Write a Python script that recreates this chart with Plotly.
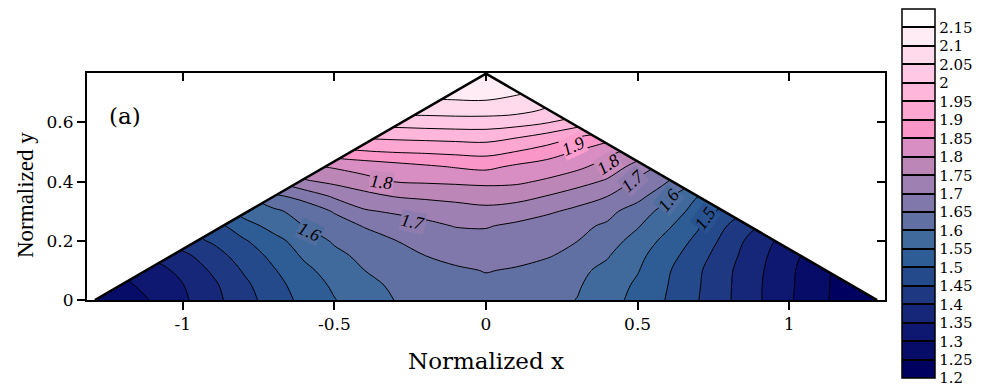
import plotly.graph_objects as go

# ---------------- data ----------------
x_grid = [-1.3, -1.2, -1.1, -1.0, -0.9, -0.8, -0.7, -0.6, -0.5, -0.4, -0.3, -0.2, -0.1, 0.0,
          0.1, 0.2, 0.3, 0.4, 0.5, 0.6, 0.7, 0.8, 0.9, 1.0, 1.1, 1.2, 1.3]
y_grid = [0.0, 0.05, 0.1, 0.15, 0.2, 0.25, 0.3, 0.35, 0.4, 0.45, 0.5, 0.55, 0.6, 0.65, 0.7, 0.75, 0.8]
N = None
z_grid = [
    [1.260, 1.267, 1.304, 1.341, 1.385, 1.429, 1.474, 1.514, 1.548, 1.576, 1.601, 1.610, 1.622, 1.628, 1.622, 1.612, 1.599, 1.569, 1.535, 1.496, 1.451, 1.404, 1.355, 1.306, 1.263, 1.221, 1.200],
    [1.260, 1.288, 1.318, 1.348, 1.391, 1.438, 1.483, 1.523, 1.558, 1.586, 1.608, 1.620, 1.633, 1.640, 1.634, 1.622, 1.605, 1.576, 1.542, 1.500, 1.454, 1.405, 1.355, 1.308, 1.263, 1.225, 1.205],
    [1.300, 1.310, 1.326, 1.366, 1.407, 1.454, 1.496, 1.538, 1.571, 1.600, 1.614, 1.628, 1.643, 1.652, 1.646, 1.629, 1.611, 1.588, 1.553, 1.505, 1.457, 1.407, 1.358, 1.310, 1.263, 1.230, 1.210],
    [N, 1.340, 1.360, 1.387, 1.430, 1.471, 1.513, 1.557, 1.588, 1.612, 1.631, 1.650, 1.664, 1.668, 1.663, 1.655, 1.633, 1.604, 1.563, 1.518, 1.470, 1.416, 1.365, 1.313, 1.280, 1.250, N],
    [N, N, 1.400, 1.430, 1.456, 1.494, 1.534, 1.573, 1.606, 1.628, 1.649, 1.665, 1.678, 1.685, 1.681, 1.668, 1.651, 1.621, 1.582, 1.533, 1.487, 1.429, 1.372, 1.330, 1.300, N, N],
    [N, N, N, 1.450, 1.480, 1.528, 1.567, 1.600, 1.628, 1.653, 1.671, 1.688, 1.702, 1.703, 1.691, 1.676, 1.661, 1.643, 1.604, 1.557, 1.505, 1.446, 1.400, 1.360, N, N, N],
    [N, N, N, N, 1.520, 1.570, 1.590, 1.621, 1.654, 1.695, 1.707, 1.716, 1.727, 1.736, 1.724, 1.708, 1.689, 1.665, 1.625, 1.580, 1.529, 1.480, 1.430, N, N, N, N],
    [N, N, N, N, N, 1.600, 1.640, 1.665, 1.707, 1.731, 1.752, 1.759, 1.765, 1.771, 1.768, 1.748, 1.723, 1.700, 1.667, 1.608, 1.550, 1.500, N, N, N, N, N],
    [N, N, N, N, N, 1.660, 1.700, 1.742, 1.761, 1.785, 1.801, 1.805, 1.808, 1.811, 1.808, 1.793, 1.770, 1.742, 1.689, 1.650, 1.600, 1.550, N, N, N, N, N],
    [N, N, N, N, N, N, 1.750, 1.790, 1.805, 1.817, 1.830, 1.842, 1.853, 1.861, 1.841, 1.826, 1.810, 1.781, 1.730, 1.680, 1.630, N, N, N, N, N, N],
    [N, N, N, N, N, N, N, 1.850, 1.880, 1.895, 1.902, 1.906, 1.911, 1.915, 1.898, 1.875, 1.845, 1.812, 1.780, 1.740, N, N, N, N, N, N, N],
    [N, N, N, N, N, N, N, N, 1.945, 1.955, 1.960, 1.963, 1.966, 1.968, 1.953, 1.930, 1.900, 1.870, 1.840, N, N, N, N, N, N, N, N],
    [N, N, N, N, N, N, N, N, N, 2.015, 2.020, 2.025, 2.028, 2.028, 2.020, 2.003, 1.975, 1.950, N, N, N, N, N, N, N, N, N],
    [N, N, N, N, N, N, N, N, N, N, 2.075, 2.078, 2.080, 2.080, 2.075, 2.050, 2.030, N, N, N, N, N, N, N, N, N, N],
    [N, N, N, N, N, N, N, N, N, N, N, 2.110, 2.118, 2.120, 2.105, 2.090, N, N, N, N, N, N, N, N, N, N, N],
    [N, N, N, N, N, N, N, N, N, N, N, 2.125, 2.130, 2.135, 2.130, 2.120, N, N, N, N, N, N, N, N, N, N, N],
    [N, N, N, N, N, N, N, N, N, N, N, N, 2.140, 2.142, 2.140, N, N, N, N, N, N, N, N, N, N, N, N],
]

# triangular domain
tri_x = [-1.29, 0.0, 1.29]
tri_y = [0.0, 0.765, 0.0]

# contour levels / colour bar
level_start, level_end, level_step = 1.25, 2.2, 0.05
cbar_min, cbar_max = 1.2, 2.2
cbar_ticks = [1.2, 1.25, 1.3, 1.35, 1.4, 1.45, 1.5, 1.55, 1.6, 1.65, 1.7, 1.75, 1.8, 1.85,
              1.9, 1.95, 2.0, 2.05, 2.1, 2.15]
cbar_text = ["1.2", "1.25", "1.3", "1.35", "1.4", "1.45", "1.5", "1.55", "1.6", "1.65", "1.7",
             "1.75", "1.8", "1.85", "1.9", "1.95", "2", "2.05", "2.1", "2.15"]
band_colors = ["#000060", "#060c68", "#0e1870", "#162678", "#1e3882", "#244a8c", "#2e5c94",
               "#406a9c", "#6070a2", "#8078aa", "#9e80b2", "#bc86b6", "#d88ec2", "#fa96c8",
               "#fca6d2", "#feb6da", "#ffc8e4", "#ffdaec", "#ffecf4", "#ffffff"]

# labelled contours: (text, x, y, angle, local background)
label_text = ["1.6", "1.7", "1.8", "1.9", "1.8", "1.7", "1.6", "1.5"]
label_x = [-0.581, -0.240, -0.344, 0.289, 0.405, 0.484, 0.603, 0.724]
label_y = [0.230, 0.265, 0.400, 0.520, 0.458, 0.402, 0.338, 0.276]
label_angle = [25, 11, 6, -25, -33, -42, -52, -55]
label_bg = ["#506d9f", "#8f7cae", "#ca8abc", "#fb9ecd", "#ca8abc", "#8f7cae", "#506d9f", "#295390"]

x_ticks = [-1, -0.5, 0, 0.5, 1]
x_ticktext = ["-1", "-0.5", "0", "0.5", "1"]
y_ticks = [0, 0.2, 0.4, 0.6]
y_ticktext = ["0", "0.2", "0.4", "0.6"]
x_range = [-1.316, 1.316]
y_range = [0.0, 0.767]

# ---------------- figure ----------------
FONT = "Liberation Serif"
WIDE = "DejaVu Serif"
n = len(band_colors)
colorscale = []
for i, c in enumerate(band_colors):
    colorscale.append([i / n, c])
    colorscale.append([(i + 1) / n, c])

fig = go.Figure()
fig.add_trace(go.Contour(
    x=x_grid, y=y_grid, z=z_grid,
    colorscale=colorscale,
    contours=dict(start=level_start, end=level_end, size=level_step, coloring="fill",
                  showlines=True),
    line=dict(color="black", width=1, smoothing=1),
    hoverinfo="skip", showscale=False,
))

# colour-bar carrier (lies outside the visible axis range)
fig.add_trace(go.Contour(
    x=[-3.0, -2.9], y=[0.3, 0.4], z=[[cbar_min, cbar_max], [cbar_min, cbar_max]],
    colorscale=colorscale, zmin=cbar_min, zmax=cbar_max,
    contours=dict(start=level_start, end=cbar_ticks[-1], size=level_step, coloring="heatmap",
                  showlines=True),
    line=dict(color="black", width=2),
    hoverinfo="skip", showscale=True,
    colorbar=dict(
        x=(902 - 87) / 798, xanchor="left", xpad=0, ypad=0,
        y=(300 - 193.7) / 227, yanchor="middle",
        thickness=33, thicknessmode="pixels",
        len=369, lenmode="pixels",
        outlinewidth=1.5, outlinecolor="black",
        tickmode="array", tickvals=cbar_ticks, ticktext=cbar_text,
        ticks="", ticklen=4,
        tickfont=dict(family=WIDE, size=15, color="black"),
    ),
))

# white masks outside the triangle
fig.add_trace(go.Scatter(
    x=[-1.6, tri_x[0], tri_x[1], 0.2, -1.6], y=[0.0, tri_y[0], tri_y[1], 1.0, 1.0],
    fill="toself", fillcolor="white", mode="lines", line=dict(width=0, color="white"),
    hoverinfo="skip", showlegend=False))
fig.add_trace(go.Scatter(
    x=[1.6, tri_x[2], tri_x[1], -0.2, 1.6], y=[0.0, tri_y[2], tri_y[1], 1.0, 1.0],
    fill="toself", fillcolor="white", mode="lines", line=dict(width=0, color="white"),
    hoverinfo="skip", showlegend=False))
# triangle outline
fig.add_trace(go.Scatter(
    x=tri_x, y=tri_y, mode="lines", line=dict(color="black", width=2.5),
    hoverinfo="skip", showlegend=False))
# helper for the inside ticks on top/right
fig.add_trace(go.Scatter(
    x=[0], y=[0.3], xaxis="x2", yaxis="y2", mode="markers", marker=dict(opacity=0),
    hoverinfo="skip", showlegend=False))

for t, lx, ly, ang, bg in zip(label_text, label_x, label_y, label_angle, label_bg):
    fig.add_annotation(x=lx, y=ly, xref="x", yref="y", text="<i>" + t + "</i>",
                       showarrow=False, textangle=ang, bgcolor=bg, borderpad=0,
                       xanchor="center", yanchor="middle",
                       font=dict(family=FONT, size=18, color="black"))

fig.add_annotation(x=(125 - 87) / 798, y=(300 - 116) / 227, xref="paper", yref="paper",
                   text="(a)", showarrow=False, xanchor="center", yanchor="middle",
                   font=dict(family=WIDE, size=23, color="black"))
# axis titles
fig.add_annotation(x=0.5, y=(300 - 361) / 227, xref="paper", yref="paper",
                   text="Normalized x", showarrow=False, xanchor="center", yanchor="middle",
                   font=dict(family=WIDE, size=23, color="black"))
fig.add_annotation(x=(25 - 87) / 798, y=(300 - 195) / 227, xref="paper", yref="paper",
                   text="Normalized y", showarrow=False, xanchor="center", yanchor="middle",
                   textangle=-90, font=dict(family=FONT, size=23, color="black"))

axis_common = dict(showgrid=False, zeroline=False, ticklen=8, tickwidth=2, tickcolor="black")
fig.update_layout(
    width=993, height=391,
    margin=dict(l=87, r=108, t=73, b=91),
    paper_bgcolor="white", plot_bgcolor="white",
    font=dict(family=FONT, color="black"),
    xaxis=dict(range=x_range, tickmode="array", tickvals=x_ticks, ticktext=x_ticktext,
               ticks="outside", showline=True, linewidth=2, linecolor="black", mirror=True,
               tickfont=dict(family=WIDE, size=17, color="black"),
               **axis_common),
    yaxis=dict(range=y_range, tickmode="array", tickvals=y_ticks, ticktext=y_ticktext,
               ticks="outside", showline=True, linewidth=2, linecolor="black", mirror=True,
               tickfont=dict(family=WIDE, size=17, color="black"),
               **axis_common),
    xaxis2=dict(range=x_range, overlaying="x", side="top", anchor="y", tickmode="array",
                tickvals=x_ticks, ticks="inside", showticklabels=False, showline=False,
                **axis_common),
    yaxis2=dict(range=y_range, overlaying="y", side="right", anchor="x", tickmode="array",
                tickvals=y_ticks, ticks="inside", showticklabels=False, showline=False,
                **axis_common),
    showlegend=False,
)

fig.write_html("out.html")
